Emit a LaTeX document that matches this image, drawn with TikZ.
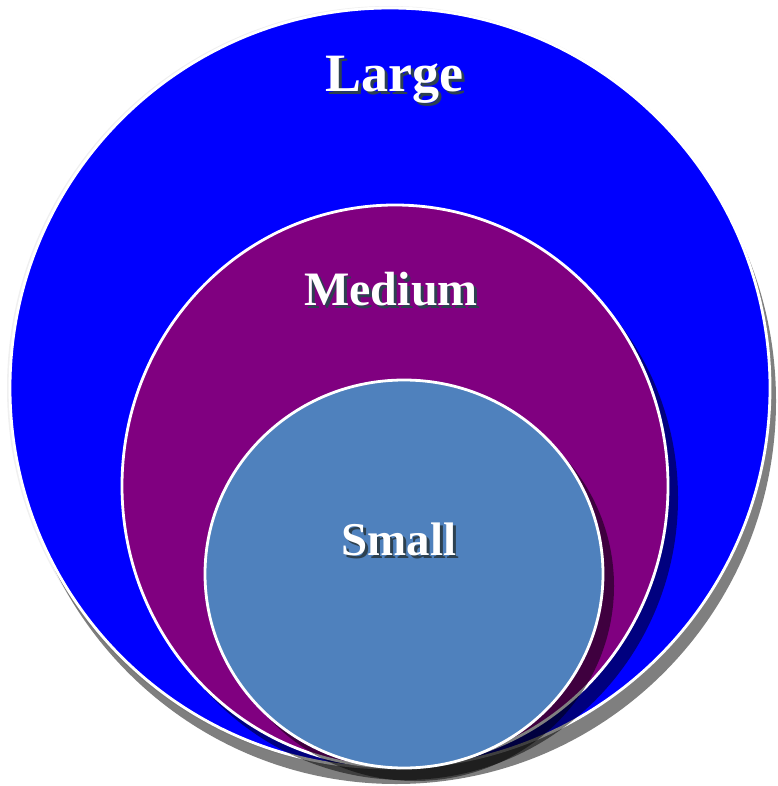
\documentclass[tikz,border=0pt]{standalone}
\usepackage{fontspec}
\setmainfont{Liberation Serif}
\usetikzlibrary{calc}
\definecolor{largeblue}{RGB}{0,0,255}
\definecolor{medpurple}{RGB}{128,0,128}
\definecolor{smallblue}{RGB}{79,129,189}
\definecolor{txtshadow}{RGB}{45,65,80}
\tikzset{
  dropshadow/.style={fill=black,fill opacity=0.5},
  ring/.style={draw=white,line width=2.8pt},
  lbl/.style={anchor=base,inner sep=0pt},
}
\newcommand{\fancylabel}[4]{%
  \node[lbl,text=txtshadow,font=\bfseries\fontsize{#3}{#3}\selectfont] at ($(#1)+(3,3)$) {#4};
  \node[lbl,text=white,font=\bfseries\fontsize{#3}{#3}\selectfont] (#2) at (#1) {#4};
}
\begin{document}
\begin{tikzpicture}[x=1pt,y=-1pt]
\useasboundingbox (0,0) rectangle (777,786);
% large
\fill[black!6] (389,388) ellipse [x radius=382,y radius=382];
\fill[dropshadow] (396,401) ellipse [x radius=380,y radius=383];
\draw[ring,fill=largeblue] (390,388) ellipse [x radius=380,y radius=380];
% medium
\fill[dropshadow] (405,498) ellipse [x radius=273,y radius=282];
\draw[ring,fill=medpurple] (395,486) ellipse [x radius=273,y radius=281];
% small
\fill[dropshadow] (415,586) ellipse [x radius=199,y radius=195];
\draw[ring,fill=smallblue] (404,574) ellipse [x radius=199,y radius=194];
% labels
\coordinate (pL) at (394,92);
\coordinate (pM) at (391,305);
\coordinate (pS) at (399,555);
\fancylabel{pL}{tLarge}{54}{Large}
\fancylabel{pM}{tMedium}{48}{Medium}
\fancylabel{pS}{tSmall}{47}{Small}
\end{tikzpicture}
\end{document}
